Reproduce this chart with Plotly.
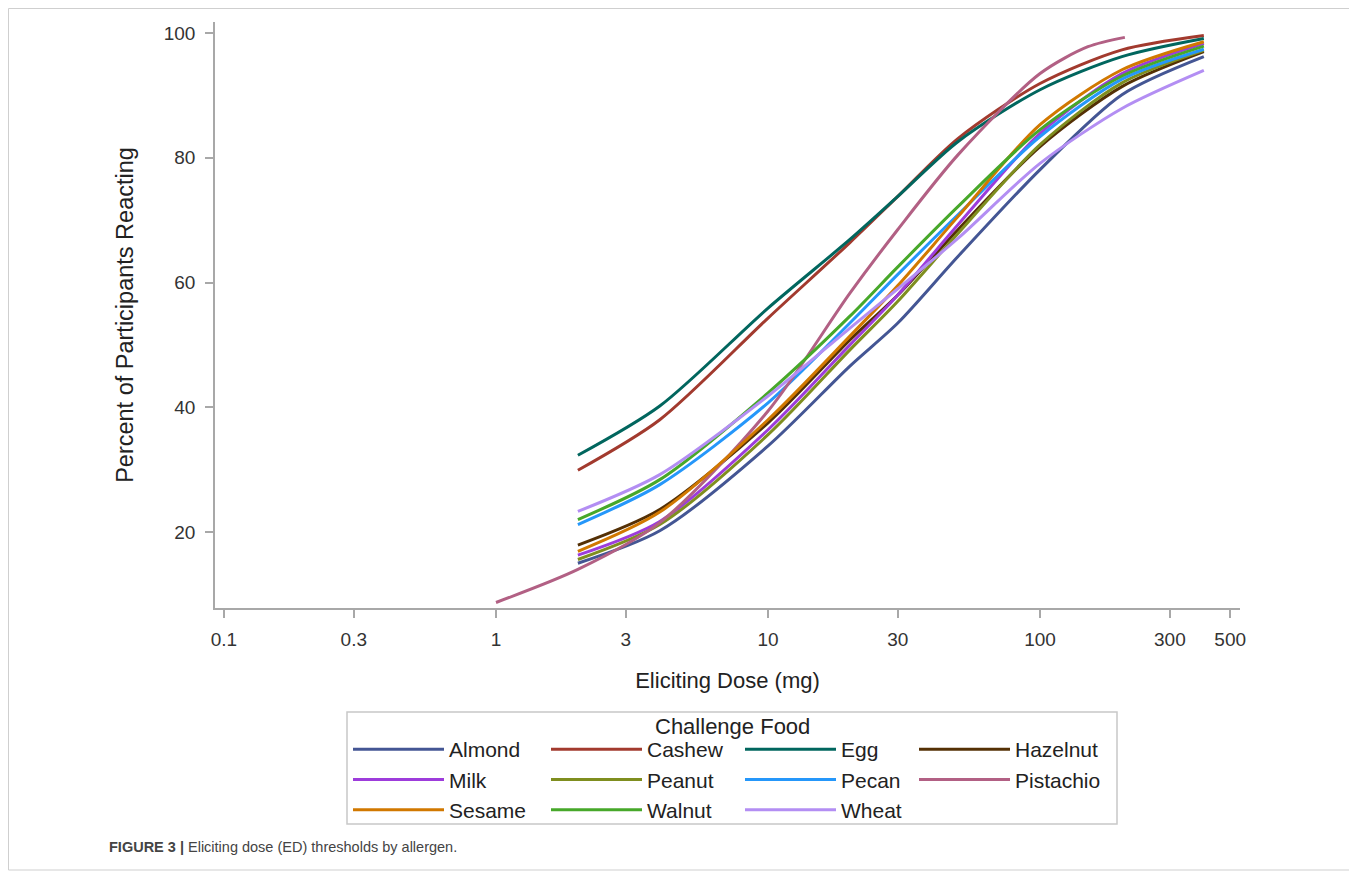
import plotly.graph_objects as go

# ---- data ----
DOSES = [2, 4, 10, 20, 30, 50, 100, 200, 400]
PISTACHIO_DOSES = [1, 2, 4, 10, 20, 30, 50, 100, 150, 205]

almond    = [15.0, 20.2, 33.8, 46.6, 53.5, 64.2, 78.1, 90.1, 96.2]
cashew    = [29.9, 38.0, 54.3, 66.4, 73.8, 83.1, 91.9, 97.3, 99.6]
egg       = [32.3, 40.2, 55.9, 66.9, 73.8, 82.6, 90.9, 96.2, 99.1]
hazelnut  = [17.9, 23.6, 37.5, 50.8, 58.0, 68.5, 81.8, 91.4, 97.0]
milk      = [16.3, 21.7, 36.4, 50.0, 58.0, 69.3, 83.9, 93.5, 98.3]
peanut    = [15.6, 21.2, 35.6, 49.2, 57.0, 67.9, 82.1, 92.0, 97.2]
pecan     = [21.2, 27.6, 40.7, 53.5, 61.3, 70.9, 83.4, 92.6, 97.4]
pistachio = [8.7, 14.0, 21.5, 39.4, 58.3, 68.5, 80.5, 93.5, 97.8, 99.3]
sesame    = [16.9, 23.2, 38.0, 51.4, 59.5, 70.6, 85.3, 94.1, 98.6]
walnut    = [22.0, 28.4, 42.3, 54.6, 62.5, 72.2, 84.5, 93.1, 97.9]
wheat     = [23.3, 29.2, 41.8, 52.7, 59.0, 67.1, 79.1, 87.9, 94.0]

FOODS = ["Almond", "Cashew", "Egg", "Hazelnut", "Milk", "Peanut",
         "Pecan", "Pistachio", "Sesame", "Walnut", "Wheat"]
VALUES = [almond, cashew, egg, hazelnut, milk, peanut,
          pecan, pistachio, sesame, walnut, wheat]

X_TICKS = [0.1, 0.3, 1, 3, 10, 30, 100, 300, 500]
X_TICKTEXT = ["0.1", "0.3", "1", "3", "10", "30", "100", "300", "500"]
Y_TICKS = [20, 40, 60, 80, 100]

# ---- styling ----
COLORS = ["#445694", "#A23A2E", "#01665E", "#543005", "#9D3CDB", "#7F8E1F",
          "#2597FA", "#B26084", "#D17800", "#47A82A", "#B38EF3"]
FONT = "Liberation Sans, Arial, sans-serif"
OFF = 8  # page body margin
W, H = 1349, 887
ML, MT, PW, PH = 215 - OFF, 22 - OFF, 1025, 586
MR = W - ML - PW
MB = H - MT - PH


def px2x(px):  # screen px -> paper x
    return (px - OFF - ML) / PW


def py2y(py):  # screen px -> paper y
    return (MT + PH - (py - OFF)) / PH


LEGEND_IDS = ["legend", "legend2", "legend3", "legend4"]

fig = go.Figure()
for i, (name, vals, col) in enumerate(zip(FOODS, VALUES, COLORS)):
    xs = PISTACHIO_DOSES if name == "Pistachio" else DOSES
    fig.add_trace(go.Scatter(
        x=xs, y=vals, mode="lines", name=name,
        line=dict(color=col, width=3, shape="spline", smoothing=0.8),
        legend=LEGEND_IDS[i % 4], hoverinfo="x+y+name",
    ))

axis_col = "#a8a8a8"
tick_font = dict(family=FONT, size=19, color="#333333")

legend_common = dict(
    orientation="v", xanchor="left", yanchor="top",
    bgcolor="rgba(0,0,0,0)", borderwidth=0,
    font=dict(family=FONT, size=21, color="#222222"),
    itemwidth=91, tracegroupgap=0,
)
col_line_starts = [348, 546, 740, 914]
legend_top = 729
layout_legends = {}
for lid, xs in zip(LEGEND_IDS, col_line_starts):
    layout_legends[lid] = dict(legend_common, x=px2x(xs), y=py2y(legend_top))

fig.update_layout(
    width=W, height=H,
    margin=dict(l=ML, r=MR, t=MT, b=MB, autoexpand=False),
    paper_bgcolor="white", plot_bgcolor="white",
    font=dict(family=FONT, color="#333333"),
    showlegend=True,
    xaxis=dict(
        type="log", range=[-1.033, 2.735],
        tickvals=X_TICKS, ticktext=X_TICKTEXT,
        ticks="outside", ticklen=8, tickcolor=axis_col, tickwidth=1.5,
        ticklabelstandoff=5,
        showline=True, linecolor=axis_col, linewidth=1.5,
        showgrid=False, zeroline=False, tickfont=tick_font,
        title=dict(text="Eliciting Dose (mg)", standoff=24,
                   font=dict(family=FONT, size=22, color="#222222")),
    ),
    yaxis=dict(
        range=[7.82, 101.76], tickvals=Y_TICKS,
        ticks="outside", ticklen=8, tickcolor=axis_col, tickwidth=1.5,
        ticklabelstandoff=6,
        showline=True, linecolor=axis_col, linewidth=1.5,
        showgrid=False, zeroline=False, tickfont=tick_font,
        title=dict(text="Percent of Participants Reacting", standoff=24,
                   font=dict(family=FONT, size=23.5, color="#222222")),
    ),
    shapes=[
        # legend frame
        dict(type="rect", xref="paper", yref="paper",
             x0=px2x(347), x1=px2x(1117), y0=py2y(824), y1=py2y(712),
             line=dict(color="#c8c8c8", width=1.5), fillcolor="rgba(0,0,0,0)"),
        # outer figure frame
        dict(type="rect", xref="paper", yref="paper",
             x0=px2x(OFF + 0.5), x1=px2x(OFF + W - 1.5),
             y0=py2y(870), y1=py2y(OFF + 0.5),
             line=dict(color="#cfcfcf", width=1), fillcolor="rgba(0,0,0,0)"),
    ],
    annotations=[
        dict(text="Challenge Food", xref="paper", yref="paper",
             x=px2x(732), y=py2y(726), xanchor="center", yanchor="middle",
             showarrow=False, font=dict(family=FONT, size=22, color="#222222")),
        dict(text="<b>FIGURE 3 |</b> Eliciting dose (ED) thresholds by allergen.",
             xref="paper", yref="paper", x=px2x(107), y=py2y(847),
             xanchor="left", yanchor="middle", showarrow=False,
             font=dict(family=FONT, size=14.5, color="#444444")),
    ],
    **layout_legends,
)

fig.write_html("out.html")
